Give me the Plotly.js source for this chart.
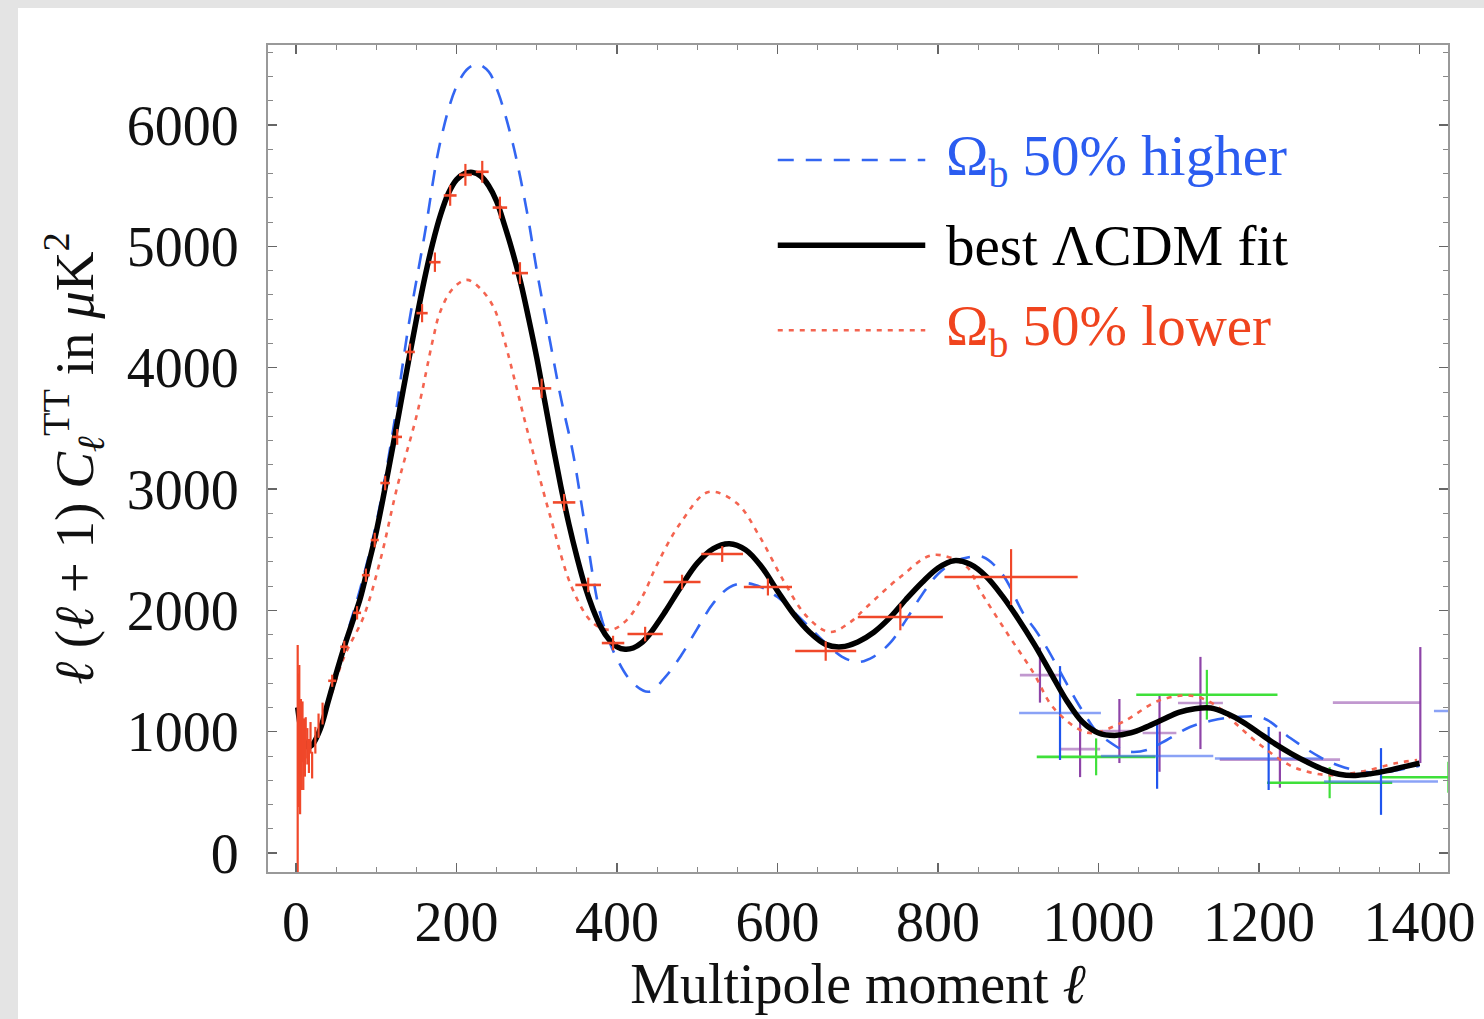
<!DOCTYPE html>
<html>
<head>
<meta charset="utf-8">
<script src="https://cdn.plot.ly/plotly-3.0.1.min.js"></script>
<style>
  html, body { margin:0; padding:0; background:#e4e4e4; width:1484px; height:1019px; overflow:hidden; }
  #chart { position:absolute; left:18px; top:8px; width:1466px; height:1011px; background:#fff; }
</style>
</head>
<body>
<div id="chart"></div>
<script>
// ---- theory curves: multipole l and l(l+1)C_l/2pi in muK^2 ----
const bestL = [2,6,10,15,20,30,40,50,60,70,80,90,100,110,120,130,140,150,160,170,180,190,200,210,220,230,240,250,260,270,280,290,300,310,320,330,340,350,360,370,380,390,400,410,420,430,440,460,480,500,520,540,560,580,600,620,640,660,680,700,720,740,760,780,800,820,840,860,880,900,920,940,960,980,1000,1020,1040,1060,1080,1100,1120,1140,1160,1180,1200,1220,1240,1260,1280,1300,1320,1340,1360,1380,1400];
const bestV = [1200,1020,920,875,890,1020,1250,1480,1700,1900,2100,2370,2650,2980,3330,3690,4050,4400,4730,5020,5260,5440,5550,5600,5610,5580,5500,5370,5170,4950,4700,4400,4080,3720,3360,3020,2710,2440,2200,2010,1860,1760,1700,1680,1690,1730,1800,1990,2200,2390,2510,2550,2500,2360,2160,1970,1820,1720,1700,1740,1820,1940,2090,2230,2350,2410,2380,2280,2120,1930,1720,1490,1260,1080,990,970,990,1040,1100,1160,1190,1195,1150,1080,990,900,820,750,690,650,640,655,680,710,740];

const highL = [2,10,20,40,60,80,100,120,140,160,180,200,215,227,240,252,270,288,300,317,330,345,360,380,400,420,440,460,480,500,520,540,560,580,600,620,640,660,680,700,720,740,760,780,800,820,840,856,880,906,920,935,960,977,1000,1010,1030,1043,1060,1085,1114,1140,1170,1205,1239,1276,1300,1330,1360,1392,1400];
const highV = [1200,920,900,1270,1730,2180,2720,3450,4340,5090,5870,6320,6470,6500,6440,6265,5850,5276,4800,4200,3750,3300,2700,1950,1600,1400,1330,1450,1630,1850,2060,2190,2225,2190,2110,1990,1860,1730,1620,1575,1620,1730,1920,2130,2300,2400,2440,2440,2300,1978,1850,1698,1400,1204,980,932,850,833,850,932,1039,1090,1120,1113,948,791,720,670,670,709,720];

const lowL = [2,10,20,40,60,84,105,126,151,171,179,195,213,230,246,257,288,317,345,370,392,412,432,450,479,514,549,578,607,637,665,690,711,753,794,836,852,886,919,943,977,995,1030,1077,1118,1150,1173,1205,1243,1285,1326,1372,1397];
const lowV = [1200,920,900,1230,1620,1946,2415,3017,3627,4246,4450,4650,4724,4650,4500,4287,3487,2770,2168,1896,1840,1920,2120,2380,2720,2976,2885,2605,2250,1946,1822,1900,2028,2275,2457,2358,2168,1814,1484,1204,1014,990,1080,1261,1295,1200,1055,874,709,643,668,742,767];

// ---- WMAP (red) measurements ----
const redL    = [2,3,4,5,6,7,8,9,10,11,12,14,16,18,20,24,28,33,45,60,76,87,98,111,126,142,157,173,192,211,232,254,279,306,334,364,395,435,481,531,588,660,753,891];
const redV    = [780,930,1100,700,950,800,1000,750,900,820,950,880,800,950,725,930,1050,1150,1420,1700,1980,2290,2580,3050,3430,4130,4450,4870,5420,5590,5615,5320,4780,3830,2890,2210,1731,1805,2234,2465,2193,1665,1946,2275];
const redEyP  = [935,550,450,380,320,280,250,230,210,190,170,150,140,130,110,110,100,90,50,50,55,55,60,60,65,70,75,80,85,90,90,90,90,80,70,60,60,60,60,65,70,80,110,230];
const redEyM  = [960,550,450,380,320,280,250,230,210,190,170,150,140,130,110,110,100,90,50,50,55,55,60,60,65,70,75,80,85,90,90,90,90,80,70,60,60,60,60,65,70,80,110,230];
const redEx   = [0,0,0,0,0,0,0,0,0,0,0,0,0,0,0,0,0,0,5,5,5,5,5,6,6,6,7,7,8,8,8,9,10,12,14,16,14,22,23,26,30,38,53,83];

// ---- other experiments ----
const blueL   = [952,1073,1212,1352,1480];
const blueV   = [1154,800,780,590,1171];
const blueEy  = [387,270,260,275,0];
const blueExP = [51,70,67,71,0];
const blueExM = [51,70,67,71,62];

const greenL   = [997,1135,1288,1436];
const greenV   = [793,1305,580,625];
const greenEy  = [152,205,128,128];
const greenEx  = [74,88,78,85];

const purpleL   = [927,977,1026,1076,1127,1226,1401];
const purpleV   = [1467,857,1006,990,1237,770,1240];
const purpleEyP = [227,231,264,320,380,231,458];
const purpleEyM = [227,231,264,320,380,231,498];
const purpleExP = [25,25,25,21,28,75,0];
const purpleExM = [25,25,25,21,28,75,109];

const xTicks = [0,200,400,600,800,1000,1200,1400];
const yTicks = [0,1000,2000,3000,4000,5000,6000];

const SERIF = '"Liberation Serif", "Times New Roman", "DejaVu Serif", serif';
const BLUE = '#3366f2', RED = '#f0482a', PURPLE = '#8e44a8', GREEN = '#3fe03a';

function pts(x, y, col, colx, eyP, eyM, exP, exM, name) {
  return {
    type:'scatter', mode:'markers', x:x, y:y, name:name, showlegend:false,
    marker:{size:1, color:'rgba(0,0,0,0)'}, hoverinfo:'skip', cliponaxis:true,
    error_y:{type:'data', symmetric:false, array:eyP, arrayminus:eyM, color:col, thickness:2.2, width:0},
    error_x:{type:'data', symmetric:false, array:exP, arrayminus:exM, color:colx, thickness:2.6, width:0}
  };
}

const traces = [
  pts(purpleL, purpleV, PURPLE, 'rgba(142,68,168,0.55)', purpleEyP, purpleEyM, purpleExP, purpleExM, 'purple data'),
  pts(greenL, greenV, GREEN, GREEN, greenEy, greenEy, greenEx, greenEx, 'green data'),
  pts(blueL, blueV, '#1f55ee', 'rgba(60,100,240,0.6)', blueEy, blueEy, blueExP, blueExM, 'blue data'),
  {type:'scatter', mode:'lines', x:highL, y:highV, name:'Ωb 50% higher', showlegend:false,
   line:{color:BLUE, width:2.6, dash:'16px,12px', shape:'spline', smoothing:1}},
  {type:'scatter', mode:'lines', x:lowL, y:lowV, name:'Ωb 50% lower', showlegend:false,
   line:{color:'#f46450', width:2.6, dash:'5px,6px', shape:'spline', smoothing:1}},
  {type:'scatter', mode:'lines', x:bestL, y:bestV, name:'best ΛCDM fit', showlegend:false,
   line:{color:'#000', width:5.5, shape:'spline', smoothing:1}},
  pts(redL, redV, RED, RED, redEyP, redEyM, redEx, redEx, 'WMAP')
];

// legend (drawn in paper coordinates of the plot area)
const legRows = [
  {y:0.861, text:'Ω<sub>b</sub> 50% higher', color:'#2b5cf0', line:{color:BLUE, width:2.4, dash:'16px,12px'}},
  {y:0.758, text:'best ΛCDM fit', color:'#000', line:{color:'#000', width:5.5, dash:'solid'}},
  {y:0.655, text:'Ω<sub>b</sub> 50% lower', color:'#f0441e', line:{color:'#f46450', width:2.6, dash:'5px,6px'}}
];
const shapes = legRows.map(r => ({type:'line', xref:'paper', yref:'paper', x0:0.432, x1:0.557, y0:r.y, y1:r.y, line:r.line}));
const annotations = legRows.map(r => ({xref:'paper', yref:'paper', x:0.573, y:r.y, xanchor:'left', yanchor:'middle', showarrow:false,
  text:r.text, font:{family:SERIF, size:57, color:r.color}}));

const axisCommon = {
  showgrid:false, zeroline:false, showline:true, linecolor:'#999', linewidth:2, mirror:'allticks',
  ticks:'inside', ticklen:9, tickwidth:1.3, tickcolor:'#666',
  tickfont:{family:SERIF, size:56, color:'#111'}
};

const layout = {
  width:1466, height:1011,
  margin:{l:250, r:36, t:37, b:147},
  paper_bgcolor:'#fff', plot_bgcolor:'#fff',
  showlegend:false,
  xaxis: Object.assign({}, axisCommon, {
    range:[-35, 1435.5], tickvals:xTicks, ticktext:xTicks.map(String),
    minor:{dtick:50, tick0:0, ticks:'inside', ticklen:5, tickcolor:'#888', tickwidth:1},
    ticklabelstandoff:0,
    title:{text:'Multipole moment <i>ℓ</i>', font:{family:SERIF, size:56, color:'#111'}, standoff:6}
  }),
  yaxis: Object.assign({}, axisCommon, {
    range:[-156, 6660], tickvals:yTicks, ticktext:yTicks.map(String),
    minor:{dtick:200, tick0:0, ticks:'inside', ticklen:5, tickcolor:'#888', tickwidth:1},
    ticklabelstandoff:16,
    title:{text:'<i>ℓ</i> (<i>ℓ</i> + 1) <i>C</i><sub><i>ℓ</i></sub><sup>TT</sup> in <i>μ</i>K<sup>2</sup>', font:{family:SERIF, size:55, color:'#111'}, standoff:16}
  }),
  shapes:shapes,
  annotations:annotations
};

Plotly.newPlot('chart', traces, layout, {displayModeBar:false, staticPlot:true});
</script>
</body>
</html>
